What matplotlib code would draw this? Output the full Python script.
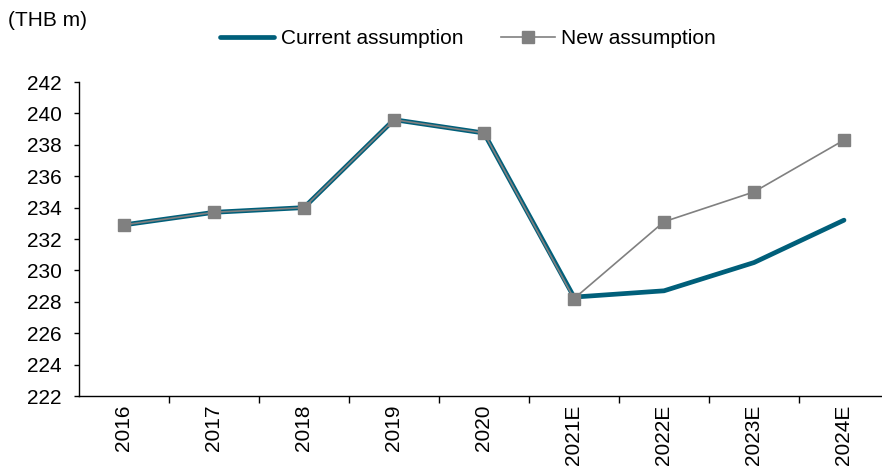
import matplotlib
matplotlib.use('Agg')
import matplotlib.pyplot as plt
import numpy as np

plt.rcParams['font.family'] = ['Liberation Sans', 'DejaVu Sans']

# chart data
years = ['2016', '2017', '2018', '2019', '2020', '2021E', '2022E', '2023E', '2024E']
current = [232.9, 233.7, 234.0, 239.6, 238.75, 228.3, 228.7, 230.5, 233.2]
new = [232.9, 233.7, 234.0, 239.6, 238.75, 228.2, 233.1, 235.0, 238.3]
y_ticks = list(range(222, 243, 2))

teal = '#005F7A'
grey = '#808080'
fs = 15

fig = plt.figure(figsize=(8.82, 4.69), dpi=100)
ax = fig.add_axes([79 / 882, 73 / 469, 810 / 882, 314 / 469])

x = np.arange(len(years))
ax.plot(x, current, color=teal, lw=3.4, solid_capstyle='round',
        solid_joinstyle='round', label='Current assumption', zorder=2)
ax.plot(x, new, color=grey, lw=1.2, marker='s', ms=8.8,
        markeredgecolor=grey, markerfacecolor=grey,
        label='New assumption', zorder=3)

ax.set_xlim(-0.5, len(years) - 0.5)
ax.set_ylim(222, 242)
ax.set_yticks(y_ticks)
ax.set_yticklabels([str(t) for t in y_ticks], fontsize=fs)

# labels centred on categories, ticks on the boundaries
ax.set_xticks(x)
ax.set_xticklabels(years, rotation=90, fontsize=fs)
ax.set_xticks(np.arange(0.5, len(years) - 0.5, 1), minor=True)
ax.tick_params(axis='x', which='major', length=0, pad=6)
ax.tick_params(axis='x', which='minor', length=5, width=1.0, direction='out')
ax.tick_params(axis='y', length=3.5, width=1.0, direction='out', pad=9)

for s in ['top', 'right']:
    ax.spines[s].set_visible(False)
for s in ['left', 'bottom']:
    ax.spines[s].set_linewidth(1.0)

fig.text(8 / 882, 1 - 20 / 469, '(THB m)', fontsize=fs, va='center', ha='left')

leg = fig.legend(loc='center', bbox_to_anchor=(468 / 882, 1 - 39 / 469),
                 ncol=2, frameon=False, fontsize=fs, handlelength=2.6,
                 handletextpad=0.3, columnspacing=1.8)

fig.savefig('out.png', dpi=100)
